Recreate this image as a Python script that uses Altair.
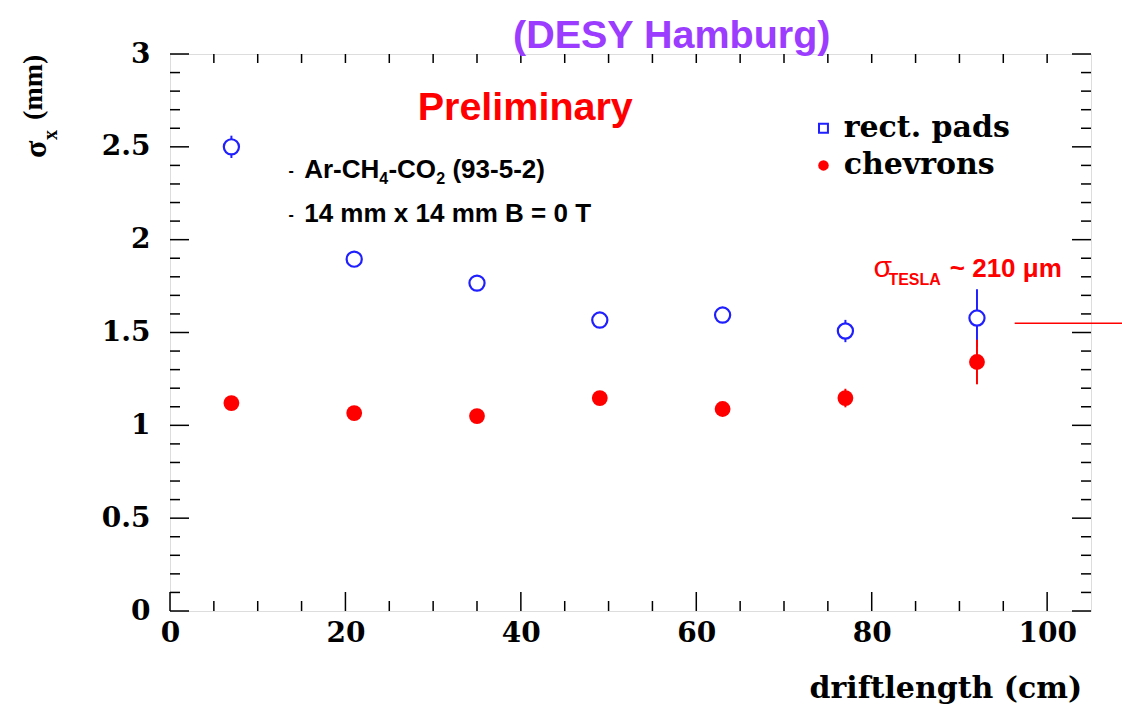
import altair as alt
import pandas as pd

# Spatial resolution vs. drift length, two pad geometries
drift = [7, 21, 35, 49, 63, 77, 92]
pads = [2.50, 1.895, 1.766, 1.567, 1.594, 1.508, 1.578]
pads_err = [0.06, 0.03, 0.03, 0.03, 0.03, 0.06, 0.155]
chev = [1.12, 1.066, 1.05, 1.147, 1.088, 1.147, 1.341]
chev_err = [0.03, 0.03, 0.03, 0.03, 0.03, 0.05, 0.12]

x_major = [0, 20, 40, 60, 80, 100]
x_minor = [v for v in range(5, 105, 5) if v % 20 != 0]
x_top = list(range(5, 105, 5))
y_major = [0, 0.5, 1, 1.5, 2, 2.5, 3]
y_minor = [round(i * 0.1, 1) for i in range(1, 30) if i % 5 != 0]

W, H = 921, 557
SERIF = "DejaVu Serif"
TIMES = "Liberation Serif"
SANS = "Liberation Sans, Arial"
BLUE = "#1f1fff"
RED = "#ff0000"

xs = alt.Scale(domain=[0, 105], nice=False, zero=False)
ys = alt.Scale(domain=[0, 3], nice=False, zero=False)

df = pd.DataFrame({
    "drift": drift,
    "pads": pads, "pads_lo": [v - e for v, e in zip(pads, pads_err)],
    "pads_hi": [v + e for v, e in zip(pads, pads_err)],
    "chev": chev, "chev_lo": [v - e for v, e in zip(chev, chev_err)],
    "chev_hi": [v + e for v, e in zip(chev, chev_err)],
})

X = alt.X("drift:Q", scale=xs,
          axis=alt.Axis(values=x_major, ticks=False, domain=False, grid=False,
                        title=None, labelFont=SERIF, labelFontWeight="bold",
                        labelFontSize=28, labelColor="black", labelPadding=8,
                        labelFlush=False))

base = alt.Chart(df)

frame_axes = base.mark_point(opacity=0).encode(
    x=X,
    y=alt.Y("pads:Q", scale=ys,
            axis=alt.Axis(values=y_major, format="~g", ticks=False, domain=False,
                          grid=False, title=None, labelFont=SERIF,
                          labelFontWeight="bold", labelFontSize=28,
                          labelColor="black", labelPadding=20, labelFlush=False)),
)

# inward tick marks on all four sides
def yticks(vals, length):
    d = pd.DataFrame({"v": vals})
    left = alt.Chart(d).mark_rule(color="black", strokeWidth=1.5).encode(
        y=alt.Y("v:Q", scale=ys), x=alt.value(0), x2=alt.value(length))
    right = alt.Chart(d).mark_rule(color="black", strokeWidth=1.5).encode(
        y=alt.Y("v:Q", scale=ys), x=alt.value(W), x2=alt.value(W - length))
    return left + right

def xticks(vals, length, top=False):
    d = pd.DataFrame({"v": vals})
    if top:
        return alt.Chart(d).mark_rule(color="black", strokeWidth=1.5).encode(
            x=alt.X("v:Q", scale=xs), y=alt.value(0), y2=alt.value(length))
    return alt.Chart(d).mark_rule(color="black", strokeWidth=1.5).encode(
        x=alt.X("v:Q", scale=xs), y=alt.value(H), y2=alt.value(H - length))

ticks = (yticks(y_major, 19) + yticks(y_minor, 10)
         + xticks(x_major, 19) + xticks(x_minor, 10) + xticks(x_top, 9, top=True))

pads_err_bars = base.mark_rule(color=BLUE, strokeWidth=2).encode(
    x=alt.X("drift:Q", scale=xs), y=alt.Y("pads_lo:Q", scale=ys), y2="pads_hi:Q")
chev_err_bars = base.mark_rule(color=RED, strokeWidth=2).encode(
    x=alt.X("drift:Q", scale=xs), y=alt.Y("chev_lo:Q", scale=ys), y2="chev_hi:Q")

# open markers: white inside so the error bar stops at the rim
pads_pts = base.mark_point(shape="circle", filled=True, fill="white", stroke=BLUE,
                           strokeWidth=2.2, size=230, opacity=1).encode(
    x=alt.X("drift:Q", scale=xs), y=alt.Y("pads:Q", scale=ys))
chev_pts = base.mark_point(shape="circle", filled=True, color=RED,
                           size=250, opacity=1).encode(
    x=alt.X("drift:Q", scale=xs), y=alt.Y("chev:Q", scale=ys))

# legend
leg_sym = pd.DataFrame({"x": [74.5], "y1": [2.60], "y2": [2.40]})
leg_pads = alt.Chart(leg_sym).mark_point(shape="square", filled=False, color=BLUE,
                                         strokeWidth=2, size=80, opacity=1).encode(
    x=alt.X("x:Q", scale=xs), y=alt.Y("y1:Q", scale=ys))
leg_chev = alt.Chart(leg_sym).mark_point(shape="circle", filled=True, color=RED,
                                         size=110, opacity=1).encode(
    x=alt.X("x:Q", scale=xs), y=alt.Y("y2:Q", scale=ys))

def label(text, x, y, size, color="black", font=SANS, weight="bold",
          align="left", baseline="alphabetic", angle=0):
    d = pd.DataFrame({"x": [x], "y": [y], "t": [text]})
    return alt.Chart(d).mark_text(
        text=text, font=font, fontSize=size, fontWeight=weight, color=color,
        align=align, baseline=baseline, angle=angle, clip=False,
    ).encode(x=alt.X("x:Q", scale=xs), y=alt.Y("y:Q", scale=ys))

texts = [
    label("rect. pads", 76.8, 2.60, 30, font=SERIF, baseline="middle"),
    label("chevrons", 76.8, 2.40, 30, font=SERIF, baseline="middle"),
    label("(DESY Hamburg)", 57.2, 3.035, 39.5, color="#9b3cff", align="center"),
    label("Preliminary", 40.5, 2.644, 39.5, color=RED, align="center"),
    label("-", 13.5, 2.345, 16),
    label("Ar-CH", 15.3, 2.332, 26),
    label("4", 23.86, 2.30, 16),
    label("-CO", 24.9, 2.332, 26),
    label("2", 30.34, 2.30, 16),
    label("(93-5-2)", 32.2, 2.332, 26),
    label("-", 13.5, 2.108, 16),
    label("14 mm x 14 mm B = 0 T", 15.3, 2.095, 26),
    label("σ", 80.2, 1.80, 30, color=RED, weight="normal"),
    label("TESLA", 81.9, 1.755, 16, color=RED),
    label("~ 210 μm", 88.9, 1.80, 26, color=RED),
    label("driftlength (cm)", 104.0, -0.47, 30, font=SERIF, align="right"),
    # rotated y title
    label("σ", -14.1, 2.44, 32, font=TIMES, angle=270),
    label("x", -12.9, 2.537, 20, font=TIMES, angle=270),
    label("(mm)", -14.6, 2.645, 28, font=TIMES, angle=270),
]

# red marker line beside the frame
mark_line = pd.DataFrame({"x": [96.3], "x2": [108.9], "y": [1.55]})
side_rule = alt.Chart(mark_line).mark_rule(color=RED, strokeWidth=1.5, clip=False).encode(
    x=alt.X("x:Q", scale=xs), x2="x2:Q", y=alt.Y("y:Q", scale=ys))

chart = alt.layer(
    frame_axes, ticks, pads_err_bars, chev_err_bars, pads_pts, chev_pts,
    leg_pads, leg_chev, side_rule, *texts,
).properties(
    width=W, height=H,
    autosize=alt.AutoSizeParams(type="none"),
    padding={"left": 170, "top": 54, "right": 31, "bottom": 94},
).configure_view(
    stroke="black", strokeWidth=2,
).configure(background="white")

chart.save("out.html", embed_options={"renderer": "svg", "actions": False})
